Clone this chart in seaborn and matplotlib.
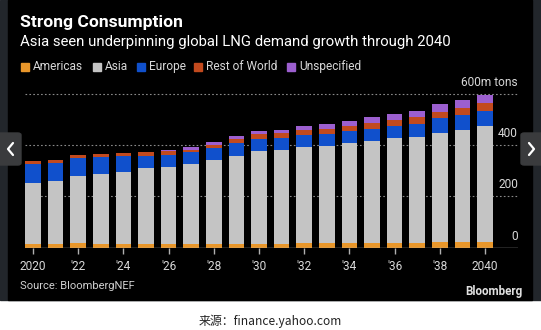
import matplotlib
matplotlib.use("Agg")
import matplotlib.pyplot as plt
import matplotlib.patches as mpatches
import matplotlib.lines as mlines
from matplotlib.transforms import offset_copy
import numpy as np
import pandas as pd
import seaborn as sns

years = list(range(2020, 2041))
americas = [14, 14, 18, 14, 14, 14, 14, 14, 14, 14, 14, 16, 18, 18, 18, 18, 18, 18, 22, 22, 22]
asia = [238, 245, 262, 273, 282, 295, 302, 313, 326, 344, 361, 366, 373, 379, 389, 399, 408, 414, 425, 438, 453]
europe = [75, 72, 71, 66, 60, 48, 44, 45, 47, 49, 50, 47, 47, 47, 48, 44, 47, 50, 57, 57, 57]
rest_of_world = [11, 11, 9, 13, 13, 16, 17, 10, 13, 16, 17, 17, 19, 18, 19, 24, 26, 26, 26, 28, 32]
unspecified = [0, 0, 0, 0, 0, 0, 2, 11, 11, 12, 13, 14, 16, 21, 21, 23, 22, 24, 29, 32, 31]

series_names = ["Americas", "Asia", "Europe", "Rest of World", "Unspecified"]
series_colors = ["#e8962a", "#c4c4c4", "#1050cc", "#c24a1e", "#9c5fcf"]
tick_years = list(range(2020, 2041, 2))
tick_labels = ["2020", "'22", "'24", "'26", "'28", "'30", "'32", "'34", "'36", "'38", "2040"]
y_ticks = [0, 200, 400, 600]
y_labels = ["0", "200", "400", "600m tons"]

sns.set_theme(style="white")
plt.rcParams["font.family"] = ["Roboto", "DejaVu Sans"]

W, H = 541, 330
fig = plt.figure(figsize=(W / 100, H / 100), dpi=100, facecolor="white")

def fx(x):
    return x / W

def fy(y):
    return 1 - y / H

# backgrounds
fig.patches.append(mpatches.Rectangle((fx(0), fy(300)), 1, 300 / H, transform=fig.transFigure,
                                      color="#22262b", zorder=0))
fig.patches.append(mpatches.Rectangle((fx(8), fy(300)), 524 / W, 300 / H, transform=fig.transFigure,
                                      color="#000000", zorder=0.5))
# nav boxes
fig.patches.append(mpatches.FancyBboxPatch((fx(-4), fy(165)), 25 / W, 32 / H, transform=fig.transFigure,
                                           boxstyle="round,pad=0,rounding_size=0.006",
                                           color="#3a3b3d", zorder=5))
fig.patches.append(mpatches.FancyBboxPatch((fx(521), fy(165)), 25 / W, 32 / H, transform=fig.transFigure,
                                           boxstyle="round,pad=0,rounding_size=0.006",
                                           color="#3a3b3d", zorder=5))
fig.lines.append(mlines.Line2D([fx(13), fx(8), fx(13)], [fy(143), fy(149), fy(155)],
                               transform=fig.transFigure, color="white", lw=1.6, zorder=6))
fig.lines.append(mlines.Line2D([fx(529), fx(534), fx(529)], [fy(143), fy(149), fy(155)],
                               transform=fig.transFigure, color="white", lw=1.6, zorder=6))

# axes
left, right, top, base = 25, 518, 93.7, 247.7
ax = fig.add_axes([fx(left), fy(base), (right - left) / W, (base - top) / H])
ax.set_zorder(2)
ax.set_facecolor("none")

df = pd.DataFrame({"year": years, "Americas": americas, "Asia": asia, "Europe": europe,
                   "Rest of World": rest_of_world, "Unspecified": unspecified})
cum = df[series_names].cumsum(axis=1)
for name, color in reversed(list(zip(series_names, series_colors))):
    sns.barplot(x=df["year"].astype(str), y=cum[name], color=color, width=0.69,
                linewidth=0, saturation=1, ax=ax, zorder=2)

ax.set_xlim(-0.354, 21.46)
ax.set_ylim(0, 600)
for s in ax.spines.values():
    s.set_visible(False)
ax.set_xlabel("")
ax.set_ylabel("")

for yv in y_ticks[1:]:
    ax.axhline(yv, color="#8a8a8a", lw=0.8, ls=(0, (1.5, 2)), zorder=1, clip_on=False)
ax.axhline(0, color="#b0b0b0", lw=1.0, zorder=3)

tpos = [years.index(y) for y in tick_years]
ax.set_xticks(tpos)
ax.set_xticklabels(tick_labels)
ax.tick_params(axis="x", length=4, width=1, color="#b0b0b0", labelcolor="#d8d8d8",
               labelsize=8.6, pad=5, direction="out", bottom=True)
ax.set_yticks([])

ytr = offset_copy(ax.get_yaxis_transform(), fig=fig, x=0, y=11.5, units="dots")
for yv, lab in zip(y_ticks, y_labels):
    ax.text(1.0, yv, lab, transform=ytr, ha="right", va="center", color="#d8d8d8",
            fontsize=8.6, zorder=4)

# titles
fig.text(fx(20), fy(22), "Strong Consumption", color="white", fontsize=12.6, fontweight="bold",
         va="center", ha="left")
fig.text(fx(20), fy(42), "Asia seen underpinning global LNG demand growth through 2040",
         color="white", fontsize=10.7, va="center", ha="left")

# legend
leg_x = [21, 93, 137, 194, 287]
for x0, name, color in zip(leg_x, series_names, series_colors):
    fig.patches.append(mpatches.Rectangle((fx(x0), fy(71)), 8 / W, 8 / H, transform=fig.transFigure,
                                          color=color, zorder=3))
    fig.text(fx(x0 + 12), fy(66.5), name, color="#d8d8d8", fontsize=8.6, va="center", ha="left")

fig.text(fx(20), fy(286), "Source: BloombergNEF", color="#d0d0d0", fontsize=8, va="center", ha="left")
fig.text(fx(522), fy(291), "Bloomberg", color="#e0e0e0", fontsize=8.4, fontweight="bold",
         va="center", ha="right")

fig.text(fx(270), fy(321), "来源：finance.yahoo.com", color="#222222", fontsize=8.6,
         va="center", ha="center", family=["Noto Sans CJK SC", "DejaVu Sans"])

fig.savefig("out.png", dpi=100, facecolor="white")
